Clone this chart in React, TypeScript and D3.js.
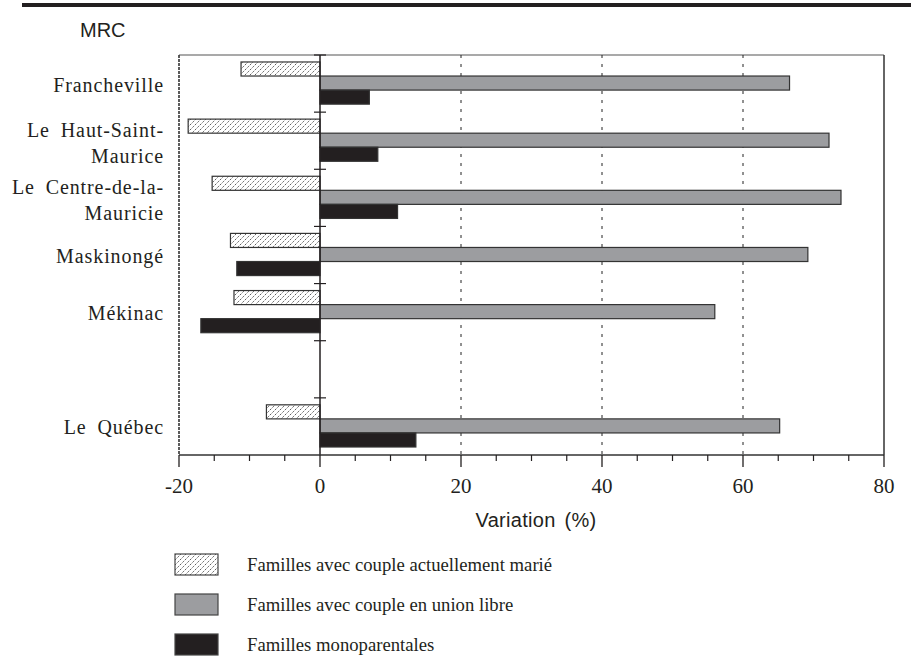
import React from "react";
import * as d3 from "d3";

const categories = ["Francheville", "Le Haut-Saint-\nMaurice", "Le Centre-de-la-\nMauricie", "Maskinongé", "Mékinac", "", "Le Québec"];
const seriesNames = ["Familles avec couple actuellement marié", "Familles avec couple en union libre", "Familles monoparentales"];
const marie = [-11.2, -18.7, -15.3, -12.7, -12.2, NaN, -7.6];
const unionLibre = [66.6, 72.2, 73.9, 69.2, 56.0, NaN, 65.2];
const monoparentales = [7.0, 8.2, 11.0, -11.8, -16.9, NaN, 13.6];
const xTicks = [-20, 0, 20, 40, 60, 80];
const gridTicks = [20, 40, 60];

const W = 911, H = 660;
const serif = "'Liberation Serif', 'Times New Roman', serif";
const sans = "'Liberation Sans', Arial, sans-serif";
const ink = "#231f20";

export default function App() {
  const x = d3.scaleLinear().domain([-20, 80]).range([179, 884]);
  const y = d3.scaleBand<number>().domain(d3.range(categories.length)).range([55, 455]).padding(0);
  const bw = y.bandwidth();
  const inner = d3.scaleBand<number>().domain([0, 1, 2]).range([bw * 0.122, bw * 0.86]).padding(0);
  const series = [marie, unionLibre, monoparentales];
  const fills = ["url(#hatch)", "#9c9da0", ink];
  const minor = d3.range(-20, 80.1, 5).filter((v) => v % 20 !== 0);
  const boundaries = d3.range(categories.length).map((i) => y(i)!);

  return (
    <svg width={W} height={H} style={{ position: "absolute", left: 0, top: 0, background: "#fff" }}>
      <defs>
        <pattern id="hatch" patternUnits="userSpaceOnUse" width="5" height="5">
          <rect width="5" height="5" fill="#fff" />
          <path d="M0,5 L5,0" stroke="#444" strokeWidth="1" strokeDasharray="1.2,1.1" />
        </pattern>
      </defs>
      <rect x={22} y={3} width={W - 22} height={4} fill={ink} />
      <text x={80} y={37} fontFamily={sans} fontSize={20} fill={ink}>MRC</text>

      {/* frame */}
      <line x1={179} x2={884} y1={55} y2={55} stroke="#555" strokeWidth={1.2} />
      <line x1={884} x2={884} y1={55} y2={455} stroke="#333" strokeWidth={1.5} />
      <line x1={179} x2={179} y1={55} y2={455} stroke="#333" strokeWidth={1.6} strokeDasharray="3,1" />
      {gridTicks.map((t) => (
        <line key={t} x1={x(t)} x2={x(t)} y1={55} y2={455} stroke="#222" strokeWidth={1} strokeDasharray="3,6" />
      ))}

      {/* bars */}
      {categories.map((c, i) =>
        series.map((s, k) => {
          const v = s[i];
          if (isNaN(v)) return null;
          const x0 = Math.min(x(0), x(v));
          return (
            <rect key={i + "-" + k} x={x0} y={y(i)! + inner(k)!} width={Math.abs(x(v) - x(0))} height={inner.bandwidth()}
              fill={fills[k]} stroke="#333" strokeWidth={1.2} />
          );
        })
      )}

      {/* zero line with ticks */}
      <line x1={x(0)} x2={x(0)} y1={55} y2={455} stroke={ink} strokeWidth={1.5} />
      {boundaries.map((b, i) => (
        <line key={i} x1={x(0) - 6} x2={x(0) + 6} y1={b} y2={b} stroke={ink} strokeWidth={1.2} />
      ))}

      {/* x axis */}
      <line x1={179} x2={884} y1={455} y2={455} stroke="#333" strokeWidth={1.5} />
      {xTicks.map((t) => (
        <g key={t}>
          <line x1={x(t)} x2={x(t)} y1={455} y2={467} stroke={ink} strokeWidth={1.3} />
          <text x={x(t)} y={493} textAnchor="middle" fontFamily={serif} fontSize={21} fill={ink}>{t}</text>
        </g>
      ))}
      {minor.map((t) => (
        <line key={t} x1={x(t)} x2={x(t)} y1={455} y2={461} stroke={ink} strokeWidth={1.2} />
      ))}
      <text x={536} y={527} textAnchor="middle" fontFamily={sans} fontSize={20} letterSpacing={0.3} wordSpacing={3} fill={ink}>Variation (%)</text>

      {/* y labels */}
      {categories.map((c, i) => {
        const lines = c.split("\n");
        const cy = y(i)! + bw / 2;
        return lines.map((l, j) => (
          <text key={i + "-" + j} x={164} y={lines.length === 1 ? cy + 8 : cy - 4 + j * 26.5} textAnchor="end"
            fontFamily={serif} fontSize={20} letterSpacing={0.9} wordSpacing={5} fill={ink}>{l}</text>
        ));
      })}

      {/* legend */}
      {seriesNames.map((n, k) => (
        <g key={n} transform={`translate(0, ${k * 40})`}>
          <rect x={175} y={554} width={43} height={21} fill={fills[k]} stroke="#444" strokeWidth={1.2} />
          <text x={247} y={571} fontFamily={serif} fontSize={18.7} fill={ink}>{n}</text>
        </g>
      ))}
    </svg>
  );
}
